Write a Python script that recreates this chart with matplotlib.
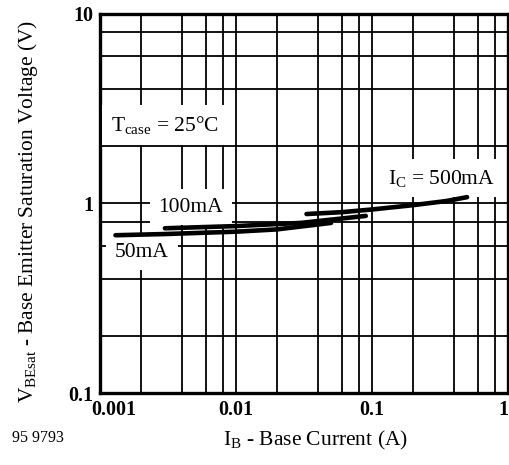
import matplotlib
matplotlib.use('Agg')
import matplotlib.pyplot as plt
import matplotlib.transforms as mtransforms
from matplotlib.ticker import LogLocator, FixedLocator, FixedFormatter, NullFormatter

plt.rcParams['font.family'] = ['Liberation Serif', 'DejaVu Serif']
plt.rcParams['mathtext.fontset'] = 'custom'
plt.rcParams['mathtext.rm'] = 'Liberation Serif'
plt.rcParams['mathtext.it'] = 'Liberation Serif'
plt.rcParams['mathtext.bf'] = 'Liberation Serif:bold'

# base current (A) and saturation voltage (V) per collector current
ib_50 = [0.0013, 0.003, 0.01, 0.02, 0.05]
vbe_50 = [0.68, 0.69, 0.71, 0.73, 0.79]
ib_100 = [0.003, 0.01, 0.03, 0.09]
vbe_100 = [0.74, 0.76, 0.79, 0.86]
ib_500 = [0.033, 0.06, 0.1, 0.2, 0.35, 0.5]
vbe_500 = [0.88, 0.90, 0.93, 0.98, 1.03, 1.08]

x_ticks = [0.001, 0.01, 0.1, 1]
x_labels = ['0.001', '0.01', '0.1', '1']
y_ticks = [0.1, 1, 10]
y_labels = ['0.1', '1', '10']

fig = plt.figure(figsize=(5.09, 4.65), dpi=100)
ax = fig.add_axes([100 / 509, 72 / 465, 408 / 509, 379 / 465])
ax.set_xscale('log')
ax.set_yscale('log')
ax.set_xlim(0.001, 1)
ax.set_ylim(0.1, 10)

# grid: decades plus 2,4,6,8
ax.xaxis.set_major_locator(FixedLocator(x_ticks))
ax.xaxis.set_major_formatter(FixedFormatter(x_labels))
ax.yaxis.set_major_locator(FixedLocator(y_ticks))
ax.yaxis.set_major_formatter(FixedFormatter(y_labels))
ax.xaxis.set_minor_locator(LogLocator(base=10, subs=[2, 4, 6, 8]))
ax.yaxis.set_minor_locator(LogLocator(base=10, subs=[2, 4, 6, 8]))
ax.xaxis.set_minor_formatter(NullFormatter())
ax.yaxis.set_minor_formatter(NullFormatter())
ax.grid(which='both', color='black', linewidth=1.3, zorder=0)
ax.set_axisbelow(True)
ax.tick_params(which='both', length=0, labelsize=14.5, pad=5)
for lab in ax.get_xticklabels() + ax.get_yticklabels():
    lab.set_fontweight('bold')
# end x labels are nudged inward, as in the original
xl = ax.get_xticklabels()
xl[0].set_transform(xl[0].get_transform() +
                    mtransforms.ScaledTranslation(14 / 100, 0, fig.dpi_scale_trans))
xl[-1].set_transform(xl[-1].get_transform() +
                     mtransforms.ScaledTranslation(-5 / 100, 0, fig.dpi_scale_trans))
for sp in ax.spines.values():
    sp.set_linewidth(2.4)

# curves
for ib, vbe in [(ib_50, vbe_50), (ib_100, vbe_100), (ib_500, vbe_500)]:
    ax.plot(ib, vbe, color='black', linewidth=3.3, solid_capstyle='round', zorder=5)

box = dict(boxstyle='square,pad=0.4', facecolor='white', edgecolor='none')
fs = 15.5
ax.text(0.159, 0.707, r'$\mathrm{T_{case}}$ = 25°C', transform=ax.transAxes,
        fontsize=fs, ha='center', va='center', bbox=box, zorder=4)
ax.text(0.223, 0.490, '100mA', transform=ax.transAxes,
        fontsize=fs, ha='center', va='center', bbox=box, zorder=4)
ax.text(0.103, 0.372, '50mA', transform=ax.transAxes,
        fontsize=fs, ha='center', va='center', bbox=box, zorder=4)
ax.text(0.838, 0.567, r'$\mathrm{I_C}$ = 500mA', transform=ax.transAxes,
        fontsize=fs, ha='center', va='center', bbox=box, zorder=4)

ax.set_xlabel(r'$\mathrm{I_B}$ - Base Current (A)', fontsize=15.5)
ax.xaxis.set_label_coords(0.527, -0.095)
ax.set_ylabel(r'$\mathrm{V_{BEsat}}$ - Base Emitter Saturation Voltage (V)', fontsize=15.4)
ax.yaxis.set_label_coords(-0.148, 0.48)

fig.text(12 / 509, 1 - 438 / 465, '95 9793', fontsize=11.5, ha='left', va='center')

fig.savefig('out.png', dpi=100)
